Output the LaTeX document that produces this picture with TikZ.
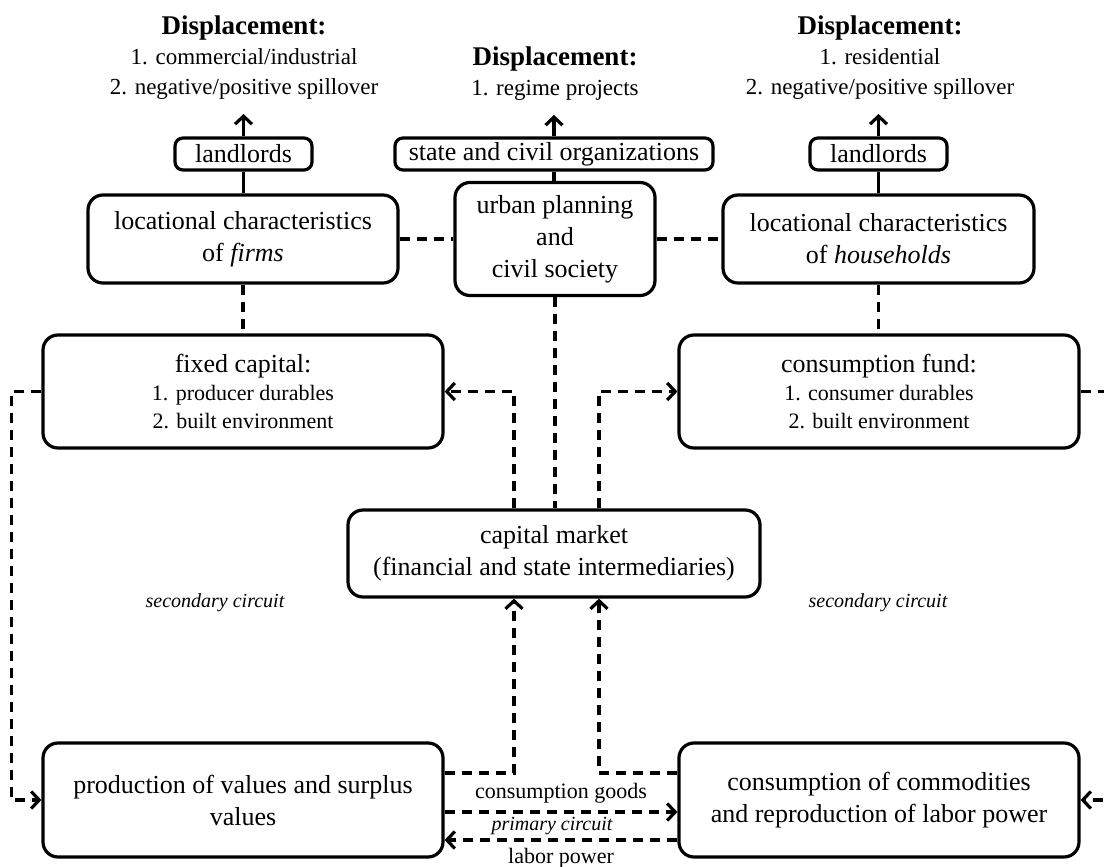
\documentclass[tikz,border=0pt]{standalone}
\usepackage{fontspec}
\setmainfont{Liberation Serif}
\usetikzlibrary{arrows.meta}

\begin{document}
\begin{tikzpicture}[x=0.5pt,y=-0.5pt,>={Straight Barb[length=4pt,width=8.5pt]},line width=1.6pt,
  box/.style={draw,rounded corners=7.5pt,align=center,inner sep=0pt,font=\fontsize{13}{16}\selectfont},
  tag/.style={draw,rounded corners=4pt,inner sep=0pt,minimum height=16pt,font=\fontsize{13}{16}\selectfont},
  disp/.style={align=center,anchor=south,font=\fontsize{11.5}{15}\selectfont},
  link/.style={dash pattern=on 5pt off 3.5pt},
  note/.style={font=\fontsize{10}{12}\selectfont\itshape}]
\path[use as bounding box,clip] (0,0) rectangle (1104,867);
\node[disp] (dispL) at (244,108) {{\fontsize{13.5}{15}\selectfont\bfseries Displacement:}\\1. commercial/industrial\\2. negative/positive spillover};
\node[disp] (dispC) at (555,109) {{\fontsize{13.5}{15}\selectfont\bfseries Displacement:}\\1. regime projects};
\node[disp] (dispR) at (880,108) {{\fontsize{13.5}{15}\selectfont\bfseries Displacement:}\\1. residential\\2. negative/positive spillover};
\node[tag,minimum width=68.5pt] (landL) at (243.5,154) {landlords};
\node[tag,minimum width=159pt] (state) at (554,154) {state and civil organizations};
\node[tag,minimum width=68.5pt] (landR) at (878.5,154) {landlords};
\node[box,minimum width=155pt,minimum height=44pt] (firms) at (243,239) {locational characteristics\\of \textit{firms}};
\node[box,minimum width=100pt,minimum height=56.5pt] (urban) at (555,239) {urban planning\\and\\civil society};
\node[box,minimum width=155.5pt,minimum height=44pt] (homes) at (878.5,239) {locational characteristics\\of \textit{households}};
\node[box,minimum width=200pt,minimum height=56.5pt,font=\fontsize{13}{14}\selectfont] (fixed) at (243,391.5) {fixed capital:\\\fontsize{11}{14}\selectfont 1. producer durables\\\fontsize{11}{14}\selectfont 2. built environment};
\node[box,minimum width=200pt,minimum height=56.5pt,font=\fontsize{13}{14}\selectfont] (fund) at (879,391.5) {consumption fund:\\\fontsize{11}{14}\selectfont 1. consumer durables\\\fontsize{11}{14}\selectfont 2. built environment};
\node[box,minimum width=206pt,minimum height=43.5pt] (market) at (554,553.5) {capital market\\(financial and state intermediaries)};
\node[box,minimum width=200pt,minimum height=57pt] (prod) at (243,800) {production of values and surplus\\values};
\node[box,minimum width=200pt,minimum height=57pt] (cons) at (879,800) {consumption of commodities\\and reproduction of labor power};
\node[note] (secL) at (215,603) {secondary circuit};
\node[note] (secR) at (878,603) {secondary circuit};
\node[note] (prim) at (552,826) {primary circuit};
\draw[->,shorten >=3pt] (landL.north) -- (landL.north |- dispL.south);
\draw[->,shorten >=3pt] (state.north) -- (state.north |- dispC.south);
\draw[->,shorten >=3pt] (landR.north) -- (landR.north |- dispR.south);
\draw (landL.south) -- (landL.south |- firms.north);
\draw (state.south) -- (state.south |- urban.north);
\draw (landR.south) -- (landR.south |- homes.north);
\draw[link] (firms.east) -- (firms.east -| urban.west);
\draw[link] (urban.east) -- (urban.east -| homes.west);
\draw[link] (firms.south) -- (firms.south |- fixed.north);
\draw[link] (homes.south) -- (homes.south |- fund.north);
\draw[link] (urban.south) -- (urban.south |- market.north);
\draw[link,->] ([xshift=-20pt]market.north) |- (fixed.east);
\draw[link,->] ([xshift=22.5pt]market.north) |- (fund.west);
\draw[link,->] (fixed.west) -- ++(-30,0) |- (prod.west);
\draw[link,->] (fund.east) -- ++(45,0) |- (cons.east);
\draw[link,->] ([yshift=13.5pt]prod.east) -| ([xshift=-20pt]market.south);
\draw[link,->] ([yshift=13.5pt]cons.west) -| ([xshift=22.5pt]market.south);
\draw[link,->] ([yshift=-6pt]prod.east) -- node[above,font=\fontsize{11}{13}\selectfont] (goods) {consumption goods} ([yshift=-6pt]cons.west);
\draw[link,->] ([yshift=-20pt]cons.west) -- node[below,font=\fontsize{11}{13}\selectfont] (labor) {labor power} ([yshift=-20pt]prod.east);
\end{tikzpicture}
\end{document}
